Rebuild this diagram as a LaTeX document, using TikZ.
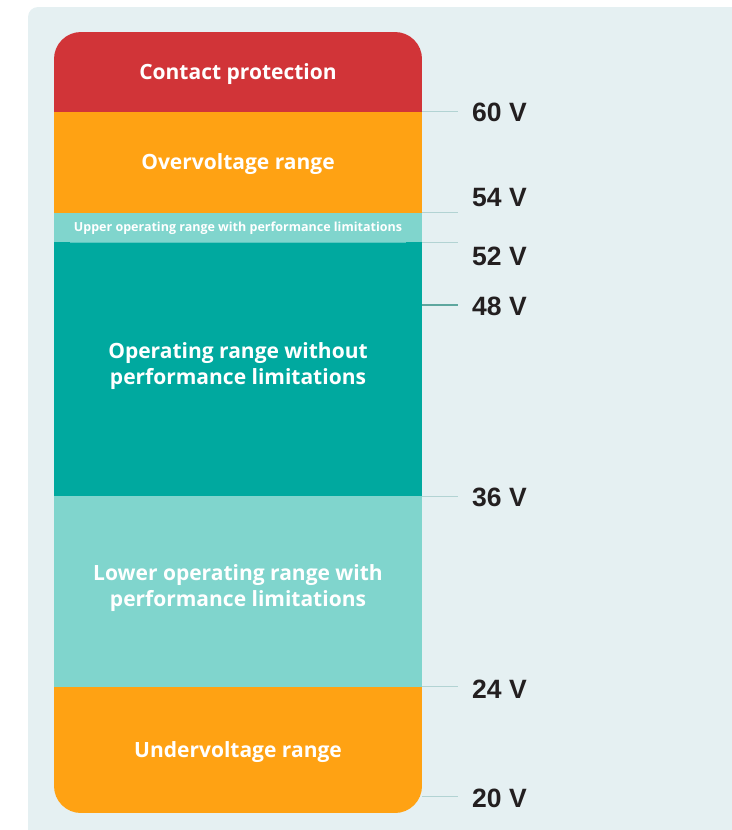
\documentclass[tikz,border=0pt]{standalone}
\usepackage{fontspec}
\setmainfont{Liberation Sans}
\newfontfamily\bandfont{Open Sans}
\definecolor{bgpanel}{HTML}{E5F0F2}
\definecolor{cred}{HTML}{D13438}
\definecolor{corange}{HTML}{FFA213}
\definecolor{clteal}{HTML}{80D5CD}
\definecolor{cteal}{HTML}{00A99F}
\definecolor{tickline}{HTML}{B2D3D3}
\definecolor{tickdark}{HTML}{5EA79F}
\definecolor{labtext}{HTML}{231F20}
\tikzset{
  bandtext/.style={text=white,font=\bandfont\bfseries\fontsize{21}{26}\selectfont,align=center,inner sep=0pt},
  smalltext/.style={text=white,font=\bandfont\bfseries\fontsize{12.5}{13}\selectfont,inner sep=0pt},
  vlabel/.style={text=labtext,font=\bfseries\fontsize{26.5}{28}\selectfont,anchor=west,inner sep=0pt},
  tick/.style={draw=tickline,line width=1pt},
  tickstrong/.style={draw=tickdark,line width=2pt}
}
\begin{document}
\begin{tikzpicture}[x=1pt,y=-1pt]
\useasboundingbox (0,0) rectangle (731,830);
% panel
\fill[bgpanel,rounded corners=10] (28,7) rectangle (742,842);
% bar
\begin{scope}
\clip[rounded corners=27] (54,32) rectangle (422,813);
\fill[cred] (54,32) rectangle (422,111.5);
\fill[corange] (54,111.5) rectangle (422,213);
\fill[clteal] (54,213) rectangle (422,242);
\fill[cteal] (54,242) rectangle (422,496);
\fill[clteal] (54,496) rectangle (422,687);
\fill[corange] (54,687) rectangle (422,813);
\end{scope}
\draw[white,opacity=0.35,line width=0.8pt] (70,242) -- (406,242);
% band texts
\node[bandtext] (tcp) at (238,74.5) {Contact protection};
\node[bandtext] (tov) at (238,164.5) {Overvoltage range};
\node[smalltext] (tup) at (238,228) {Upper operating range with performance limitations};
\node[bandtext] (top) at (238,366.5) {Operating range without\\performance limitations};
\node[bandtext] (tlow) at (238,588.5) {Lower operating range with\\performance limitations};
\node[bandtext] (tun) at (238,752.5) {Undervoltage range};
% ticks
\coordinate (a60) at (422,111); \coordinate (b60) at (458,111);
\coordinate (a54) at (422,212.5); \coordinate (b54) at (458,212.5);
\coordinate (a52) at (422,242); \coordinate (b52) at (458,242);
\coordinate (a48) at (422,305); \coordinate (b48) at (458,305);
\coordinate (a36) at (422,496); \coordinate (b36) at (458,496);
\coordinate (a24) at (422,686.5); \coordinate (b24) at (458,686.5);
\coordinate (a20) at (422,796); \coordinate (b20) at (458,796);
\draw[tick] (a60) -- (b60);
\draw[tick] (a54) -- (b54);
\draw[tick] (a52) -- (b52);
\draw[tickstrong] (a48) -- (b48);
\draw[tick] (a36) -- (b36);
\draw[tick] (a24) -- (b24);
\draw[tick] (a20) -- (b20);
% labels
\node[vlabel] (l60) at (472,112) {60 V};
\node[vlabel] (l54) at (472,198) {54 V};
\node[vlabel] (l52) at (472,256) {52 V};
\node[vlabel] (l48) at (472,306) {48 V};
\node[vlabel] (l36) at (472,497) {36 V};
\node[vlabel] (l24) at (472,689) {24 V};
\node[vlabel] (l20) at (472,798) {20 V};
\end{tikzpicture}
\end{document}
